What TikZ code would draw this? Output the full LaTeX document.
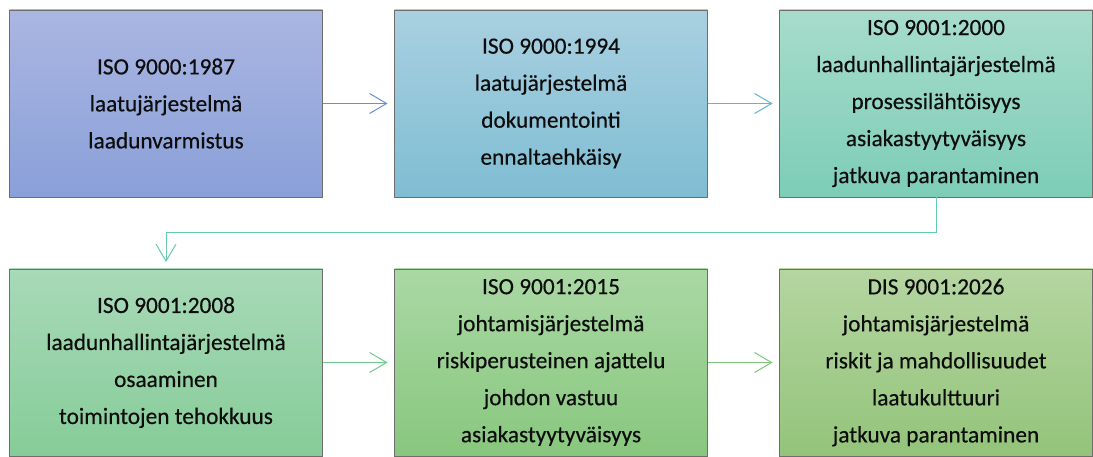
\documentclass[tikz,border=0pt]{standalone}
\usepackage{fontspec}
\setmainfont{Carlito}[FakeBold=0.4]
\usetikzlibrary{arrows.meta}

% box fills (top / bottom of each gradient)
\definecolor{aTop}{HTML}{AAB6E2}\definecolor{aBot}{HTML}{8AA0D8}
\definecolor{bTop}{HTML}{A9D0E0}\definecolor{bBot}{HTML}{7FBDD3}
\definecolor{cTop}{HTML}{A7DCCC}\definecolor{cBot}{HTML}{7DCDB6}
\definecolor{dTop}{HTML}{A8D9B8}\definecolor{dBot}{HTML}{86CC98}
\definecolor{eTop}{HTML}{AAD8A4}\definecolor{eBot}{HTML}{88C77E}
\definecolor{fTop}{HTML}{B5D5A1}\definecolor{fBot}{HTML}{93C47A}
% connector colours
\definecolor{arrA}{HTML}{6A8ED4}
\definecolor{arrB}{HTML}{5CB8CE}
\definecolor{arrC}{HTML}{66CBA8}
\definecolor{arrD}{HTML}{6DC98E}
\definecolor{arrE}{HTML}{80C47A}
\definecolor{boxline}{HTML}{6E6E6E}
\definecolor{textcol}{HTML}{0D0D0D}

\begin{document}
\begin{tikzpicture}[x=1pt,y=-1pt,
  stage/.style={draw=boxline, line width=0.9pt, minimum width=313pt,
    minimum height=187pt, inner sep=0pt, align=center, text=textcol,
    font=\fontsize{23.3}{37}\selectfont},
  flow/.style={line width=1pt, -{Straight Barb[length=17pt,width=20pt]},
    shorten >=6.5pt}]
\useasboundingbox (0,0) rectangle (1093,457);

% first row
\node[stage, top color=aTop, bottom color=aBot] (s1987) at (166,103.5)
  {ISO 9000:1987\\laatujärjestelmä\\laadunvarmistus};
\node[stage, top color=bTop, bottom color=bBot] (s1994) at (551,103.5)
  {ISO 9000:1994\\laatujärjestelmä\\dokumentointi\\ennaltaehkäisy};
\node[stage, top color=cTop, bottom color=cBot] (s2000) at (936,103.5)
  {ISO 9001:2000\\laadunhallintajärjestelmä\\prosessilähtöisyys\\asiakastyytyväisyys\\jatkuva parantaminen};

% second row
\node[stage, top color=dTop, bottom color=dBot] (s2008) at (166,362.5)
  {ISO 9001:2008\\laadunhallintajärjestelmä\\osaaminen\\toimintojen tehokkuus};
\node[stage, top color=eTop, bottom color=eBot] (s2015) at (551,362.5)
  {ISO 9001:2015\\johtamisjärjestelmä\\riskiperusteinen ajattelu\\johdon vastuu\\asiakastyytyväisyys};
\node[stage, top color=fTop, bottom color=fBot] (s2026) at (936,362.5)
  {DIS 9001:2026\\johtamisjärjestelmä\\riskit ja mahdollisuudet\\laatukulttuuri\\jatkuva parantaminen};

% connectors
\draw[flow, arrA] (s1987.east) -- (s1994.west);
\draw[flow, arrB] (s1994.east) -- (s2000.west);
\draw[flow, arrC] (s2000.south) -- ++(0,35.5) -| (s2008.north);
\draw[flow, arrD] (s2008.east) -- (s2015.west);
\draw[flow, arrE] (s2015.east) -- (s2026.west);
\end{tikzpicture}
\end{document}
